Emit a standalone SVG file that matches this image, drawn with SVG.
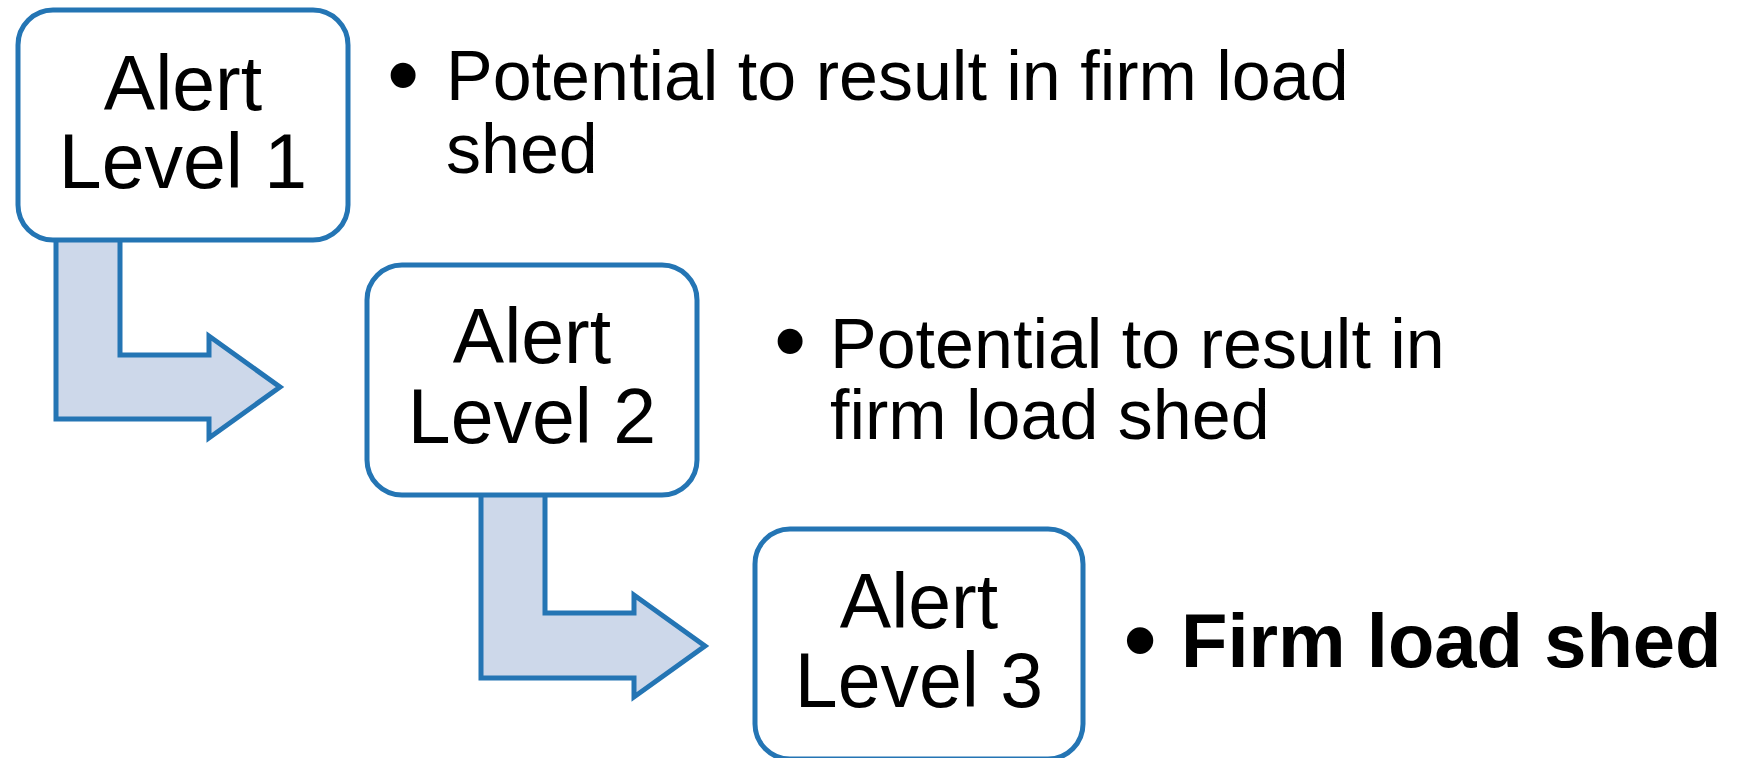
<svg xmlns="http://www.w3.org/2000/svg" width="1739" height="758" viewBox="0 0 1739 758">
  <style>
    .box { fill: #ffffff; stroke: #2475B4; stroke-width: 5; }
    .arrow { fill: #CDD8EA; stroke: #2475B4; stroke-width: 5; stroke-linejoin: miter; }
    .lbl { font-family: "Liberation Sans", Arial, sans-serif; font-size: 77px; fill: #000; text-anchor: middle; }
    .bul { font-family: "Liberation Sans", Arial, sans-serif; font-size: 70px; fill: #000; }
    .dot { font-family: "Liberation Sans", Arial, sans-serif; font-size: 92px; fill: #000; text-anchor: middle; }
    .bulb { font-family: "Liberation Sans", Arial, sans-serif; font-size: 76px; font-weight: bold; fill: #000; }
  </style>
  <rect width="1739" height="758" fill="#ffffff"/>
  <g id="connectors">
    <polygon class="arrow" points="56,236 120,236 120,355 209,355 209,336 280,387 209,438 209,419 56,419"/>
    <polygon class="arrow" points="481,492 545,492 545,613 634,613 634,595 705,646 634,697 634,678 481,678"/>
  </g>
  <g id="level1">
    <rect class="box" x="18" y="10" width="330" height="230" rx="35" ry="35"/>
    <text class="lbl" x="183" y="110">Alert</text>
    <text class="lbl" x="183" y="188">Level 1</text>
  </g>
  <g id="level2">
    <rect class="box" x="367" y="265" width="330" height="230" rx="35" ry="35"/>
    <text class="lbl" x="532" y="363">Alert</text>
    <text class="lbl" x="532" y="443">Level 2</text>
  </g>
  <g id="level3">
    <rect class="box" x="755" y="529" width="328" height="230" rx="35" ry="35"/>
    <text class="lbl" x="919" y="628">Alert</text>
    <text class="lbl" x="919" y="707">Level 3</text>
  </g>
  <g id="note1">
    <text class="dot" x="403" y="106">•</text>
    <text class="bul" x="446" y="100">Potential to result in firm load</text>
    <text class="bul" x="446" y="173">shed</text>
  </g>
  <g id="note2">
    <text class="dot" x="790" y="372">•</text>
    <text class="bul" x="830" y="368">Potential to result in</text>
    <text class="bul" x="830" y="439">firm load shed</text>
  </g>
  <g id="note3">
    <text class="dot" x="1140" y="671" font-weight="bold">•</text>
    <text class="bulb" x="1181" y="667">Firm load shed</text>
  </g>
</svg>
